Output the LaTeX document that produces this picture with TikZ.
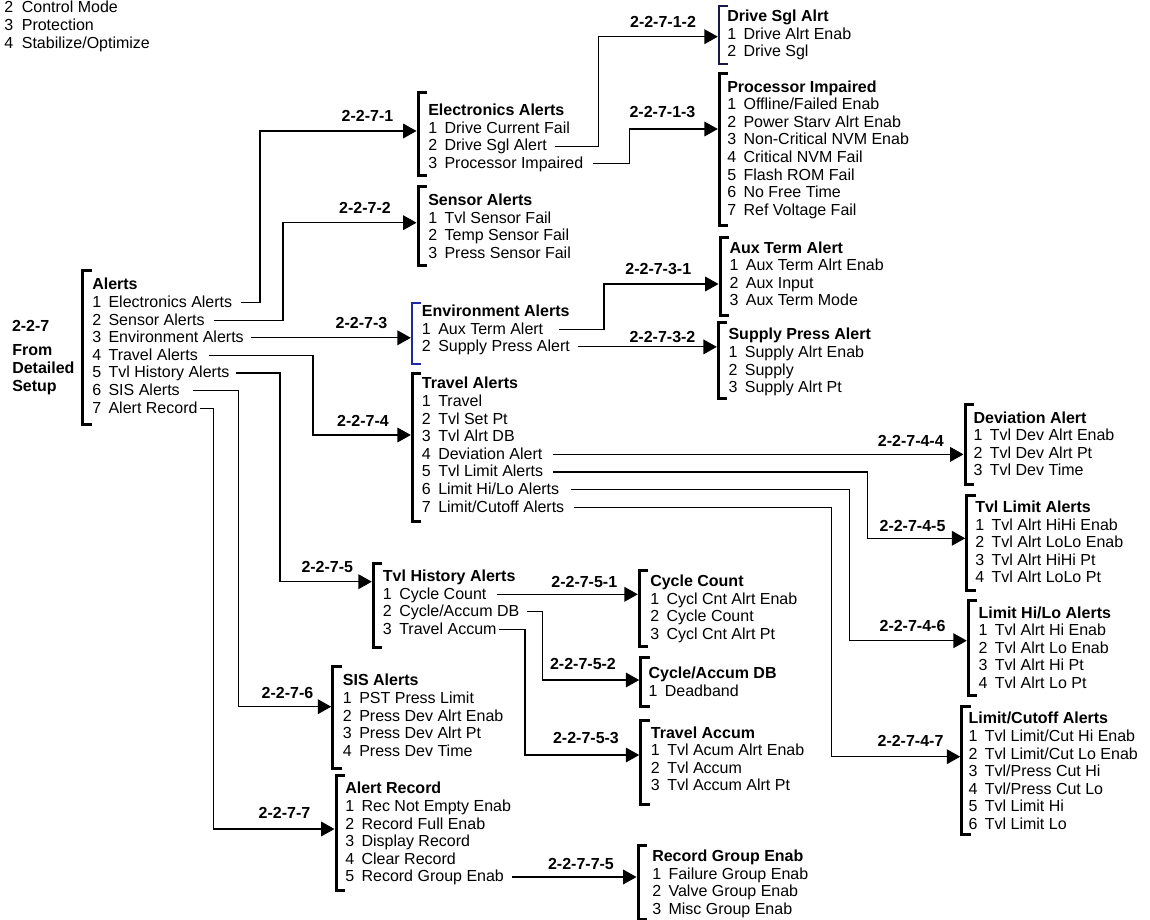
\documentclass[tikz,border=0pt]{standalone}
\usepackage{fontspec}
\setmainfont{Liberation Sans}
\usetikzlibrary{arrows.meta}
\definecolor{navyb}{RGB}{25,25,70}
\definecolor{blueb}{RGB}{30,40,160}
\def\tk{9}
% #1 name, #2 bracket x, #3 top, #4 bottom, #5 arrow y, #6 text x, #7 title y, #8 title, #9 items
\newcommand\mymenu[9]{%
  \draw[brk,brk-#1/.try] (#2+\tk,#3) -- (#2,#3) -- (#2,#4) -- (#2+\tk,#4);
  \coordinate (#1-in) at (#2-1.5,#5);
  \node[ttl] (#1-0) at (#6,#7) {#8};
  \foreach \mitem [count=\mi] in {#9} {
    \node[itm] (#1-\mi) at (#6,#7+\mi*17.6) {\makebox[1.02em][l]{\mi}\mitem};
  }
}
% bent connector: source, gap, bend x, target
\newcommand\bconn[4]{\draw[conn] ([xshift=#2]#1.east) -| (#4-in -| #3,0) -- (#4-in);}
% straight connector: source, gap, target
\newcommand\sconn[3]{\draw[conn] ([xshift=#2]#1.east) -- (#1.east -| #3-in);}
\begin{document}
\begin{tikzpicture}[x=0.75pt,y=-0.75pt,
  every node/.style={font=\fontsize{12pt}{14pt}\selectfont, inner sep=0pt, text height=8pt, text depth=0.8pt},
  itm/.style={anchor=west},
  ttl/.style={anchor=west, font=\fontsize{12pt}{14pt}\selectfont\bfseries},
  lbl/.style={font=\fontsize{12pt}{14pt}\selectfont\bfseries},
  brk/.style={line width=2.25pt},
  brk-ds/.style={line width=1.3pt, draw=navyb},
  brk-en/.style={line width=1.5pt, draw=blueb},
  conn/.style={draw, line width=0.8pt, -{Triangle[length=10pt,width=11pt]}},
]
\fill[white] (0,0) rectangle (1150,920);
\useasboundingbox (0,0) rectangle (1150,920);

% top-left list
\node[itm] (m2) at (4,7.3) {\makebox[1.1em][l]{2}Control Mode};
\node[itm] (m3) at (4,25.7) {\makebox[1.1em][l]{3}Protection};
\node[itm] (m4) at (4,43.3) {\makebox[1.1em][l]{4}Stabilize/Optimize};

% entry label
\node[lbl] (src) at (30.7,327) {2-2-7};
\node[lbl,anchor=west] (from1) at (12,350.7) {From};
\node[lbl,anchor=west] (from2) at (12,369) {Detailed};
\node[lbl,anchor=west] (from3) at (12,387) {Setup};

% menus
\mymenu{al}{82.5}{270}{424}{0}{92}{285}{Alerts}{Electronics Alerts,Sensor Alerts,Environment Alerts,Travel Alerts,Tvl History Alerts,SIS Alerts,Alert Record}
\mymenu{el}{418}{93}{176}{131}{428}{111}{Electronics Alerts}{Drive Current Fail,Drive Sgl Alert,Processor Impaired}
\mymenu{se}{418}{187}{265}{222.7}{428}{201}{Sensor Alerts}{Tvl Sensor Fail,Temp Sensor Fail,Press Sensor Fail}
\mymenu{ds}{719.3}{5.7}{64}{36.7}{727}{16.7}{Drive Sgl Alrt}{Drive Alrt Enab,Drive Sgl}
\mymenu{pi}{719.3}{74}{226}{129}{727}{87.3}{Processor Impaired}{{Offline/Failed Enab},Power Starv Alrt Enab,Non-Critical NVM Enab,Critical NVM Fail,Flash ROM Fail,No Free Time,Ref Voltage Fail}
\mymenu{at}{720}{237.3}{315}{284}{729.3}{248.3}{Aux Term Alert}{Aux Term Alrt Enab,Aux Input,Aux Term Mode}
\mymenu{sp}{718.3}{322.7}{398}{350}{728.3}{335}{Supply Press Alert}{Supply Alrt Enab,Supply,Supply Alrt Pt}
\mymenu{en}{412.3}{302.7}{364}{337.7}{421.7}{311.7}{Environment Alerts}{Aux Term Alert,Supply Press Alert}
\mymenu{tr}{412.3}{373.3}{521.7}{435}{421.7}{384}{Travel Alerts}{Travel,Tvl Set Pt,Tvl Alrt DB,Deviation Alert,Tvl Limit Alerts,{Limit Hi/Lo Alerts},{Limit/Cutoff Alerts}}
\mymenu{dv}{965}{404}{484}{455}{973.3}{418.3}{Deviation Alert}{Tvl Dev Alrt Enab,Tvl Dev Alrt Pt,Tvl Dev Time}
\mymenu{tl}{966.7}{495}{590.7}{538.3}{975}{507.7}{Tvl Limit Alerts}{Tvl Alrt HiHi Enab,Tvl Alrt LoLo Enab,Tvl Alrt HiHi Pt,Tvl Alrt LoLo Pt}
\mymenu{hl}{968.3}{600.7}{695}{640.7}{978.3}{613.3}{Limit Hi/Lo Alerts}{Tvl Alrt Hi Enab,Tvl Alrt Lo Enab,Tvl Alrt Hi Pt,Tvl Alrt Lo Pt}
\mymenu{lc}{961.7}{706}{834}{756.7}{968.3}{719}{Limit/Cutoff Alerts}{{Tvl Limit/Cut Hi Enab},{Tvl Limit/Cut Lo Enab},{Tvl/Press Cut Hi},{Tvl/Press Cut Lo},Tvl Limit Hi,Tvl Limit Lo}
\mymenu{th}{373.3}{563.3}{647.3}{581.7}{382.7}{576.7}{Tvl History Alerts}{Cycle Count,{Cycle/Accum DB},Travel Accum}
\mymenu{cc}{639.3}{570}{646.7}{596}{650}{581.7}{Cycle Count}{Cycl Cnt Alrt Enab,Cycle Count,Cycl Cnt Alrt Pt}
\mymenu{ca}{640.7}{657.7}{706.7}{680}{648.3}{674}{Cycle/Accum DB}{Deadband}
\mymenu{ta}{640.7}{720}{804}{755}{650.7}{733.3}{Travel Accum}{Tvl Acum Alrt Enab,Tvl Accum,Tvl Accum Alrt Pt}
\mymenu{si}{332.7}{666.7}{768.3}{706.7}{342.7}{681}{SIS Alerts}{PST Press Limit,Press Dev Alrt Enab,Press Dev Alrt Pt,Press Dev Time}
\mymenu{ar}{336}{775}{890.7}{829}{345}{789}{Alert Record}{Rec Not Empty Enab,Record Full Enab,Display Record,Clear Record,Record Group Enab}
\mymenu{rg}{638}{845}{919}{880}{652}{856.7}{Record Group Enab}{Failure Group Enab,Valve Group Enab,Misc Group Enab}

% connectors
\bconn{al-1}{6.75pt}{260}{el}
\bconn{al-2}{6.75pt}{283}{se}
\sconn{al-3}{5.25pt}{en}
\bconn{al-4}{8.5pt}{313}{tr}
\bconn{al-5}{4.5pt}{280}{th}
\bconn{al-6}{9.75pt}{238.3}{si}
\bconn{al-7}{1.5pt}{213.3}{ar}
\bconn{el-2}{6pt}{598.3}{ds}
\bconn{el-3}{6.75pt}{629.3}{pi}
\bconn{en-1}{12pt}{604}{at}
\sconn{en-2}{6pt}{sp}
\sconn{tr-4}{7.5pt}{dv}
\bconn{tr-5}{7.5pt}{867.3}{tl}
\bconn{tr-6}{9pt}{849.3}{hl}
\bconn{tr-7}{7pt}{831.7}{lc}
\sconn{th-1}{8pt}{cc}
\bconn{th-2}{5.5pt}{542.7}{ca}
\bconn{th-3}{1.5pt}{525}{ta}
\sconn{ar-5}{6pt}{rg}

% connector labels
\node[lbl] (l1) at (367.5,117) {2-2-7-1};
\node[lbl] (l2) at (365,209) {2-2-7-2};
\node[lbl] (l3) at (361.5,324) {2-2-7-3};
\node[lbl] (l4) at (363,421.7) {2-2-7-4};
\node[lbl] (l5) at (327.3,568) {2-2-7-5};
\node[lbl] (l6) at (287.5,693.3) {2-2-7-6};
\node[lbl] (l7) at (284.5,813.3) {2-2-7-7};
\node[lbl] (l12) at (663,22.7) {2-2-7-1-2};
\node[lbl] (l13) at (662.5,112.7) {2-2-7-1-3};
\node[lbl] (l31) at (658.3,269.3) {2-2-7-3-1};
\node[lbl] (l32) at (662.5,337.3) {2-2-7-3-2};
\node[lbl] (l44) at (910.8,441.7) {2-2-7-4-4};
\node[lbl] (l45) at (912.5,526.7) {2-2-7-4-5};
\node[lbl] (l46) at (912.5,626.7) {2-2-7-4-6};
\node[lbl] (l47) at (910.5,741.7) {2-2-7-4-7};
\node[lbl] (l51) at (584.3,582.7) {2-2-7-5-1};
\node[lbl] (l52) at (583,665) {2-2-7-5-2};
\node[lbl] (l53) at (586,738.3) {2-2-7-5-3};
\node[lbl] (l75) at (581,865) {2-2-7-7-5};
\end{tikzpicture}
\end{document}
